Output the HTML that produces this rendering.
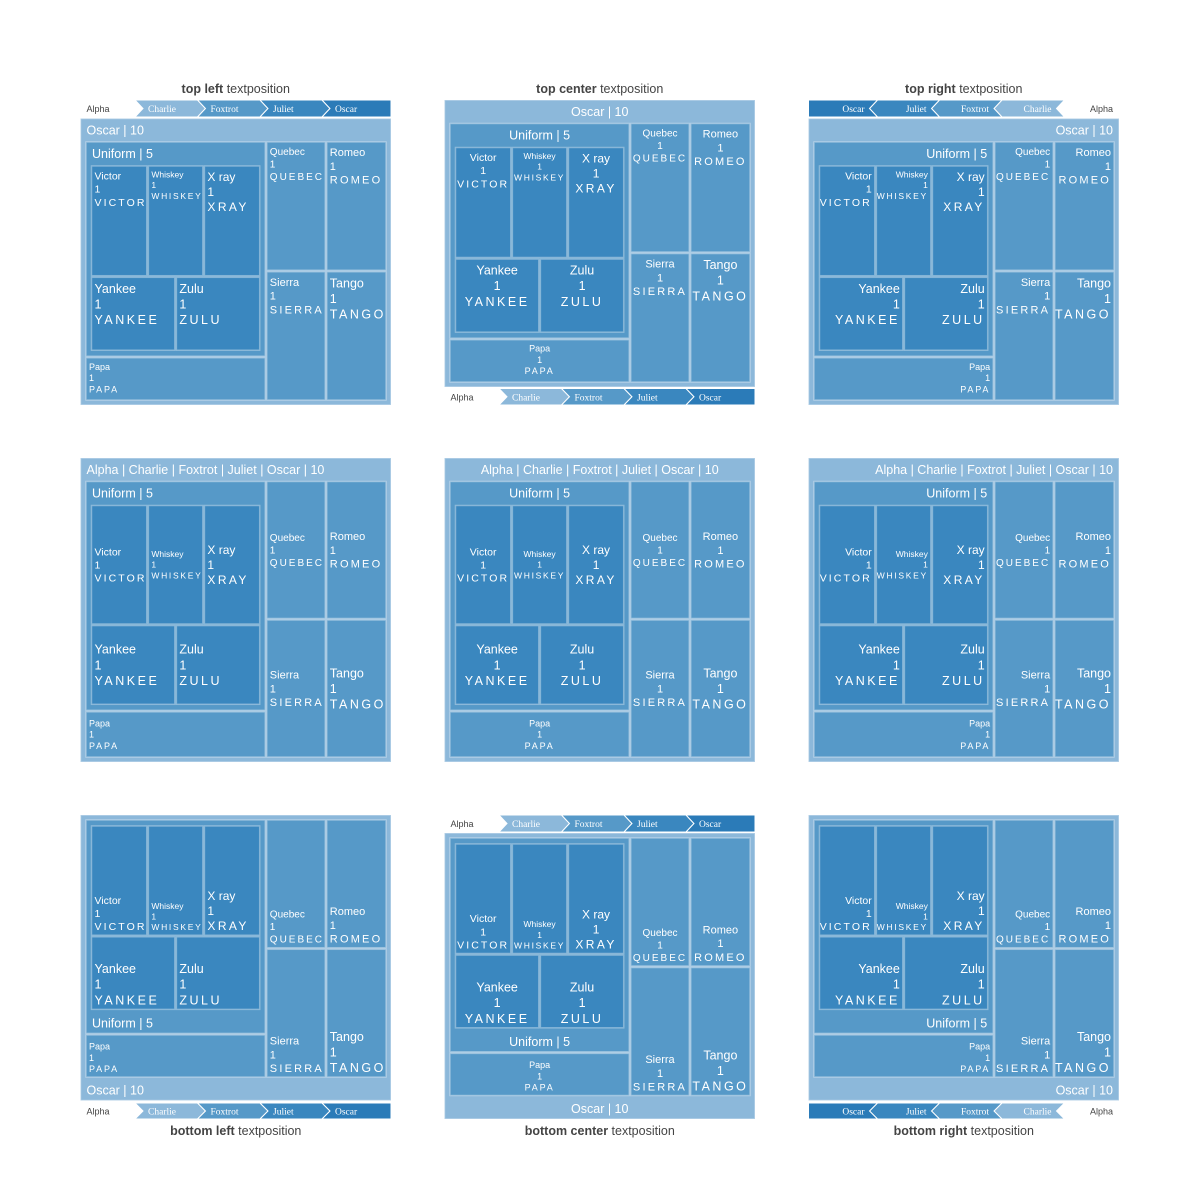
<!DOCTYPE html>
<html><head><meta charset="utf-8"><style>
body{margin:0;background:#fff}
svg{display:block}
</style></head><body>
<svg id="chart" width="1200" height="1200" xmlns="http://www.w3.org/2000/svg"></svg>
<script>
const pathLabels = ["Alpha","Charlie","Foxtrot","Juliet","Oscar"];
const pathColors = ["#ffffff","#8cb8da","#5699c8","#3a87bf","#2b7bb8"];
const rootLabel = "Oscar";
const rootValue = 10;
const midLabel = "Uniform";
const midValue = 5;
const leafNames = ["Victor","Whiskey","X ray","Yankee","Zulu","Papa","Quebec","Romeo","Sierra","Tango"];
const leafParents = ["Uniform","Uniform","Uniform","Uniform","Uniform","Oscar","Oscar","Oscar","Oscar","Oscar"];
const leafValues = [1,1,1,1,1,1,1,1,1,1];
const leafText = ["VICTOR","WHISKEY","XRAY","YANKEE","ZULU","PAPA","QUEBEC","ROMEO","SIERRA","TANGO"];
const leafFont = [10.5,8.5,12,12.5,12.5,9,10,11,11,12.5];

const NS="http://www.w3.org/2000/svg";
const svg=document.getElementById('chart');
function mk(tag,attrs,parent){const e=document.createElementNS(NS,tag);for(const k in attrs)e.setAttribute(k,attrs[k]);(parent||svg).appendChild(e);return e;}
const C_ROOT="#8cb8da",C_MID="#5699c8",C_LEAF="#3a87bf",STROKE="rgba(255,255,255,0.35)";

const panels=[
 {x0:80.5,x1:391,y0:118.5,y1:405,hdr:'top',h:'left',v:'top',pb:[100,117,'ltr'],title:['top left',93],name:'top-left'},
 {x0:444.5,x1:755,y0:100,y1:387,hdr:'top',h:'center',v:'top',pb:[388.5,405,'ltr'],title:['top center',93],name:'top-center'},
 {x0:808.5,x1:1119,y0:118.5,y1:405,hdr:'top',h:'right',v:'top',pb:[100,117,'rtl'],title:['top right',93],name:'top-right'},
 {x0:80.5,x1:391,y0:458,y1:762,hdr:'top',h:'left',v:'middle',pb:null,title:null,name:'middle-left'},
 {x0:444.5,x1:755,y0:458,y1:762,hdr:'top',h:'center',v:'middle',pb:null,title:null,name:'middle-center'},
 {x0:808.5,x1:1119,y0:458,y1:762,hdr:'top',h:'right',v:'middle',pb:null,title:null,name:'middle-right'},
 {x0:80.5,x1:391,y0:815,y1:1100.5,hdr:'bottom',h:'left',v:'bottom',pb:[1103,1119,'ltr'],title:['bottom left',1135],name:'bottom-left'},
 {x0:444.5,x1:755,y0:833,y1:1119,hdr:'bottom',h:'center',v:'bottom',pb:[815,832,'ltr'],title:['bottom center',1135],name:'bottom-center'},
 {x0:808.5,x1:1119,y0:815,y1:1100.5,hdr:'bottom',h:'right',v:'bottom',pb:[1103,1119,'rtl'],title:['bottom right',1135],name:'bottom-right'}
];

function val(n){return leafValues[leafNames.indexOf(n)];}
function hx(h,x0,x1,pad){return h==='left'?x0+pad:h==='right'?x1-pad:(x0+x1)/2;}
function anchor(h){return h==='left'?'start':h==='right'?'end':'middle';}

function box(g,r,fill,name){
  const e=mk('rect',{x:r[0],y:r[1],width:r[2]-r[0],height:r[3]-r[1],fill:fill,stroke:STROKE,'stroke-width':1.5},g);
  
  
  return e;
}
function headerText(g,r,txt,p,name){
  const y=p.hdr==='top'?r[1]+16:r[3]-6;
  const t=mk('text',{x:hx(p.h,r[0],r[2],6),y:y,'text-anchor':anchor(p.h),fill:'#fff','font-size':12.5,'font-family':'Liberation Sans, sans-serif'},g);
  t.textContent=txt;
  
  
}
function leaf(g,r,i,p){
  const nm=leafNames[i];
  box(g,r,leafParents[i]==='Uniform'?C_LEAF:C_MID,'tile-'+nm.toLowerCase().replace(' ','-'));
  const f=leafFont[i],lh=f*1.25;
  let b1;
  if(p.v==='top')b1=r[1]+3+f;
  else if(p.v==='bottom')b1=r[3]-5-2*lh;
  else b1=(r[1]+r[3])/2-lh+f*0.35;
  const x=hx(p.h,r[0],r[2],3);
  const lines=[nm,String(leafValues[i]),leafText[i]];
  lines.forEach((s,k)=>{
    const t=mk('text',{x:x,y:b1+k*lh,'text-anchor':anchor(p.h),fill:'#fff','font-size':f,'font-family':'Liberation Sans, sans-serif'},g);
    if(k===2){t.setAttribute('letter-spacing',(f*0.2).toFixed(2));}
    t.textContent=s;
    
    
  });
}

function pathbar(g,p){
  const [y0,y1,dir]=p.pb,ym=(y0+y1)/2,a=8;
  const widths=[54.5,62.5,62.5,62];
  let xs=[p.x0];for(const w of widths)xs.push(xs[xs.length-1]+w);xs.push(p.x1);
  for(let i=0;i<pathLabels.length;i++){
    let L=xs[i],R=xs[i+1];
    let pts;
    if(dir==='ltr'){
      const l=L,rr=R;
      pts=[[l,y0],[rr,y0],[rr+(i<4?a:0),ym],[rr,y1],[l,y1],[l+(i>0?a:0),ym]];
    }else{
      const l=p.x1-(R-p.x0),rr=p.x1-(L-p.x0);
      pts=[[rr,y0],[l,y0],[l-(i<4?a:0),ym],[l,y1],[rr,y1],[rr-(i>0?a:0),ym]];
    }
    const poly=mk('polygon',{points:pts.map(q=>q.join(',')).join(' '),fill:pathColors[i],stroke:'#fff','stroke-width':1},g);
    
    
  }
  for(let i=0;i<pathLabels.length;i++){
    let L=xs[i],R=xs[i+1];
    const off=i===0?6:13;
    let x,anc;
    if(dir==='ltr'){x=L+off;anc='start';}else{x=p.x1-(L-p.x0)-off;anc='end';}
    const t=mk('text',{x:x,y:ym+3.5,'text-anchor':anc,fill:i===0?'#444':'#fff','font-size':i===0?9:9.5,'font-family':i===0?'Liberation Sans, sans-serif':'Liberation Serif, serif'},g);
    t.textContent=pathLabels[i];
    
    
  }
}

panels.forEach(p=>{
  const g=mk('g',{});
  
  
  if(p.title){
    const t=mk('text',{x:(p.x0+p.x1)/2,y:p.title[1],'text-anchor':'middle',fill:'#444','font-size':12.5,'font-family':'Liberation Sans, sans-serif'},g);
    
    
    const b=mk('tspan',{'font-weight':'bold'},t);b.textContent=p.title[0];
    const s=mk('tspan',{},t);s.textContent=' textposition';
  }
  if(p.pb)pathbar(g,p);
  const root=[p.x0,p.y0,p.x1,p.y1];
  box(g,root,C_ROOT,'tile-oscar');
  headerText(g,root,p.pb?rootLabel+' | '+rootValue:pathLabels.join(' | ')+' | '+rootValue,p,'header-oscar');
  // inner region
  const ix0=p.x0+5.5,ix1=p.x1-5;
  const iy0=p.hdr==='top'?p.y0+23.5:p.y0+5;
  const iy1=p.hdr==='top'?p.y1-5:p.y1-23.5;
  const W=ix1-ix0,H=iy1-iy0,g2=0.8;
  const U=["Victor","Whiskey","X ray","Yankee","Zulu"].reduce((s,n)=>s+val(n),0);
  const P=val("Papa"),Q=val("Quebec"),Ro=val("Romeo"),S=val("Sierra"),T=val("Tango");
  const total=U+P+Q+Ro+S+T;
  const lx=ix0+W*(U+P)/total;
  const uy=iy0+H*U/(U+P);
  const uni=[ix0,iy0,lx-g2,uy-g2];
  box(g,uni,C_MID,'tile-uniform');
  headerText(g,uni,midLabel+' | '+midValue,p,'header-uniform');
  leaf(g,[ix0,uy+g2,lx-g2,iy1],leafNames.indexOf("Papa"),p);
  const ry=iy0+H*(Q+Ro)/(Q+Ro+S+T);
  const qx=lx+(ix1-lx)*Q/(Q+Ro), sx=lx+(ix1-lx)*S/(S+T);
  leaf(g,[lx+g2,iy0,qx-g2,ry-g2],leafNames.indexOf("Quebec"),p);
  leaf(g,[qx+g2,iy0,ix1,ry-g2],leafNames.indexOf("Romeo"),p);
  leaf(g,[lx+g2,ry+g2,sx-g2,iy1],leafNames.indexOf("Sierra"),p);
  leaf(g,[sx+g2,ry+g2,ix1,iy1],leafNames.indexOf("Tango"),p);
  // uniform children
  const ux0=uni[0]+5.5,ux1=uni[2]-5.5;
  const uy0=p.hdr==='top'?uni[1]+24:uni[1]+6;
  const uy1=p.hdr==='top'?uni[3]-6:uni[3]-24;
  const top3=["Victor","Whiskey","X ray"],bot2=["Yankee","Zulu"];
  const tS=top3.reduce((s,n)=>s+val(n),0),bS=bot2.reduce((s,n)=>s+val(n),0);
  const sy=uy0+(uy1-uy0)*tS/(tS+bS);
  let cx=ux0;
  top3.forEach((n,k)=>{const w=(ux1-ux0)*val(n)/tS;leaf(g,[cx+(k?g2:0),uy0,cx+w-(k<2?g2:0),sy-g2],leafNames.indexOf(n),p);cx+=w;});
  cx=ux0;
  bot2.forEach((n,k)=>{const w=(ux1-ux0)*val(n)/bS;leaf(g,[cx+(k?g2:0),sy+g2,cx+w-(k<1?g2:0),uy1],leafNames.indexOf(n),p);cx+=w;});
});
</script>
</body></html>
